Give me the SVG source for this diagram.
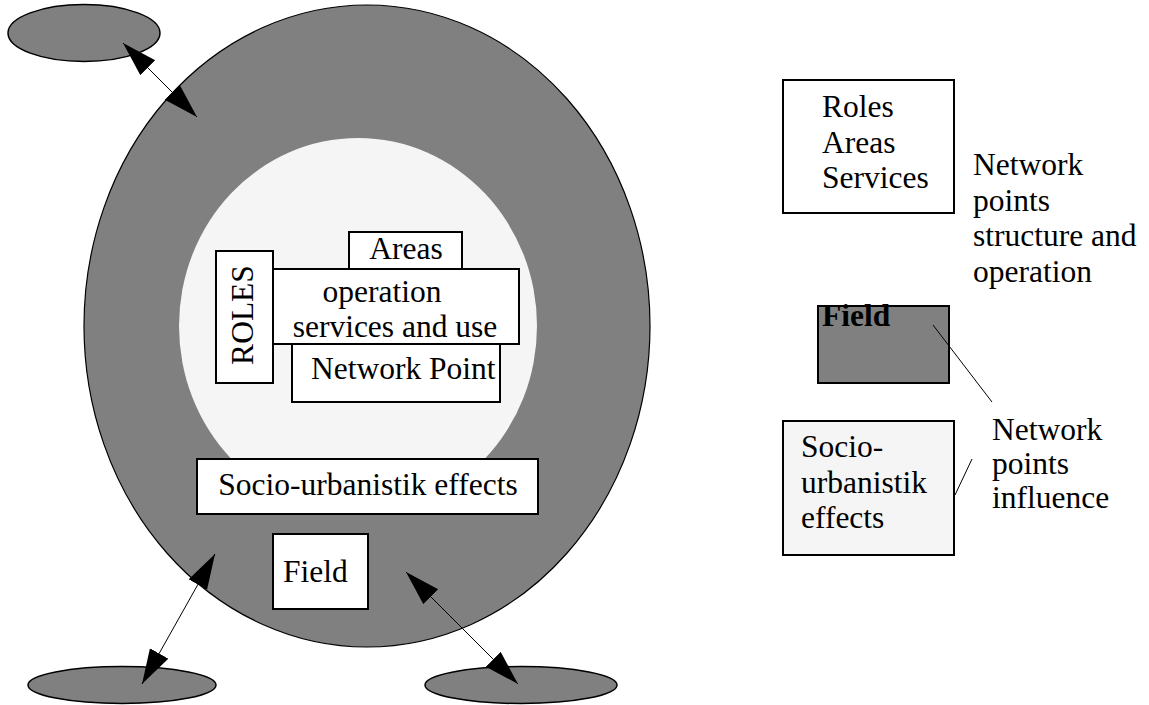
<svg xmlns="http://www.w3.org/2000/svg" width="1149" height="705" viewBox="0 0 1149 705">
  <style>
    .lbl { font-family: "Liberation Serif", "Times New Roman", serif; font-size: 31.5px; fill: #000; }
    .mid { text-anchor: middle; }
    .bold { font-weight: bold; }
    .box { fill: #ffffff; stroke: #000; stroke-width: 2; }
    .pale { fill: #f5f5f5; stroke: #000; stroke-width: 2; }
    .dark { fill: #808080; stroke: #000; stroke-width: 2; }
    .blob { fill: #808080; stroke: #000; stroke-width: 1.5; }
    .link { stroke: #000; stroke-width: 1; fill: none; }
    .arrow { marker-start: url(#head); marker-end: url(#head); }
  </style>
  <defs>
    <marker id="head" markerUnits="userSpaceOnUse" markerWidth="36" markerHeight="22" refX="35" refY="10.5" orient="auto-start-reverse" viewBox="0 0 36 22">
      <path d="M0,0 L35,10.5 L0,21 Z" fill="#000"/>
    </marker>
  </defs>

  <rect width="1149" height="705" fill="#ffffff"/>

  <!-- outer field ring and inner network point area -->
  <g id="field-ring">
    <ellipse cx="367" cy="326" rx="283" ry="321" fill="#808080" stroke="#000" stroke-width="1.2"/>
    <ellipse cx="358" cy="326" rx="179" ry="188" fill="#f5f5f5"/>
  </g>

  <!-- outside partner areas -->
  <g id="partner-top">
    <ellipse cx="84" cy="33" rx="76" ry="28.5" class="blob"/>
  </g>
  <g id="partner-bottom-left">
    <ellipse cx="122" cy="685" rx="94" ry="18.5" class="blob"/>
  </g>
  <g id="partner-bottom-right">
    <ellipse cx="521" cy="685" rx="96" ry="18.5" class="blob"/>
  </g>

  <!-- network point components -->
  <g id="areas">
    <rect x="349" y="232" width="113" height="40" class="box"/>
    <text x="406" y="259" class="lbl mid">Areas</text>
  </g>
  <g id="roles">
    <rect x="216" y="251" width="57" height="132" class="box"/>
    <text transform="translate(253 315) rotate(-90)" class="lbl mid">ROLES</text>
  </g>
  <g id="network-point">
    <rect x="292" y="344" width="208" height="58" class="box"/>
    <text x="311" y="379" class="lbl">Network Point</text>
  </g>
  <g id="operation">
    <rect x="273" y="269" width="246" height="75" class="box"/>
    <text x="382" y="302" class="lbl mid">operation</text>
    <text x="395" y="337" class="lbl mid">services and use</text>
  </g>
  <g id="socio-effects">
    <rect x="197" y="459" width="341" height="55" class="box"/>
    <text x="368" y="495" class="lbl mid">Socio-urbanistik effects</text>
  </g>
  <g id="field">
    <rect x="273" y="534" width="95" height="75" class="box"/>
    <text x="283" y="582" class="lbl">Field</text>
  </g>

  <!-- legend -->
  <g id="legend-structure">
    <rect x="783" y="80" width="171" height="133" class="box"/>
    <text class="lbl"><tspan x="822" y="117">Roles</tspan><tspan x="822" y="152.5">Areas</tspan><tspan x="822" y="188">Services</tspan></text>
    <text class="lbl"><tspan x="973" y="175">Network</tspan><tspan x="973" y="210.5">points</tspan><tspan x="973" y="246">structure and</tspan><tspan x="973" y="281.5">operation</tspan></text>
  </g>
  <g id="legend-field">
    <rect x="818" y="306" width="131" height="77" class="dark"/>
    <text x="822" y="326" class="lbl bold">Field</text>
  </g>
  <g id="legend-socio">
    <rect x="783" y="421" width="171" height="134" class="pale"/>
    <text class="lbl"><tspan x="801" y="457">Socio-</tspan><tspan x="801" y="493">urbanistik</tspan><tspan x="801" y="528">effects</tspan></text>
  </g>
  <g id="legend-influence">
    <text class="lbl"><tspan x="992" y="440">Network</tspan><tspan x="992" y="474">points</tspan><tspan x="992" y="508">influence</tspan></text>
  </g>

  <!-- connectors -->
  <g id="connectors">
    <line x1="123" y1="43" x2="197" y2="117" class="link arrow"/>
    <line x1="215" y1="554" x2="142" y2="684" class="link arrow"/>
    <line x1="406" y1="572" x2="518" y2="684" class="link arrow"/>
    <line x1="933" y1="325" x2="992" y2="402" class="link"/>
    <line x1="955" y1="495" x2="972" y2="459" class="link"/>
  </g>
</svg>
